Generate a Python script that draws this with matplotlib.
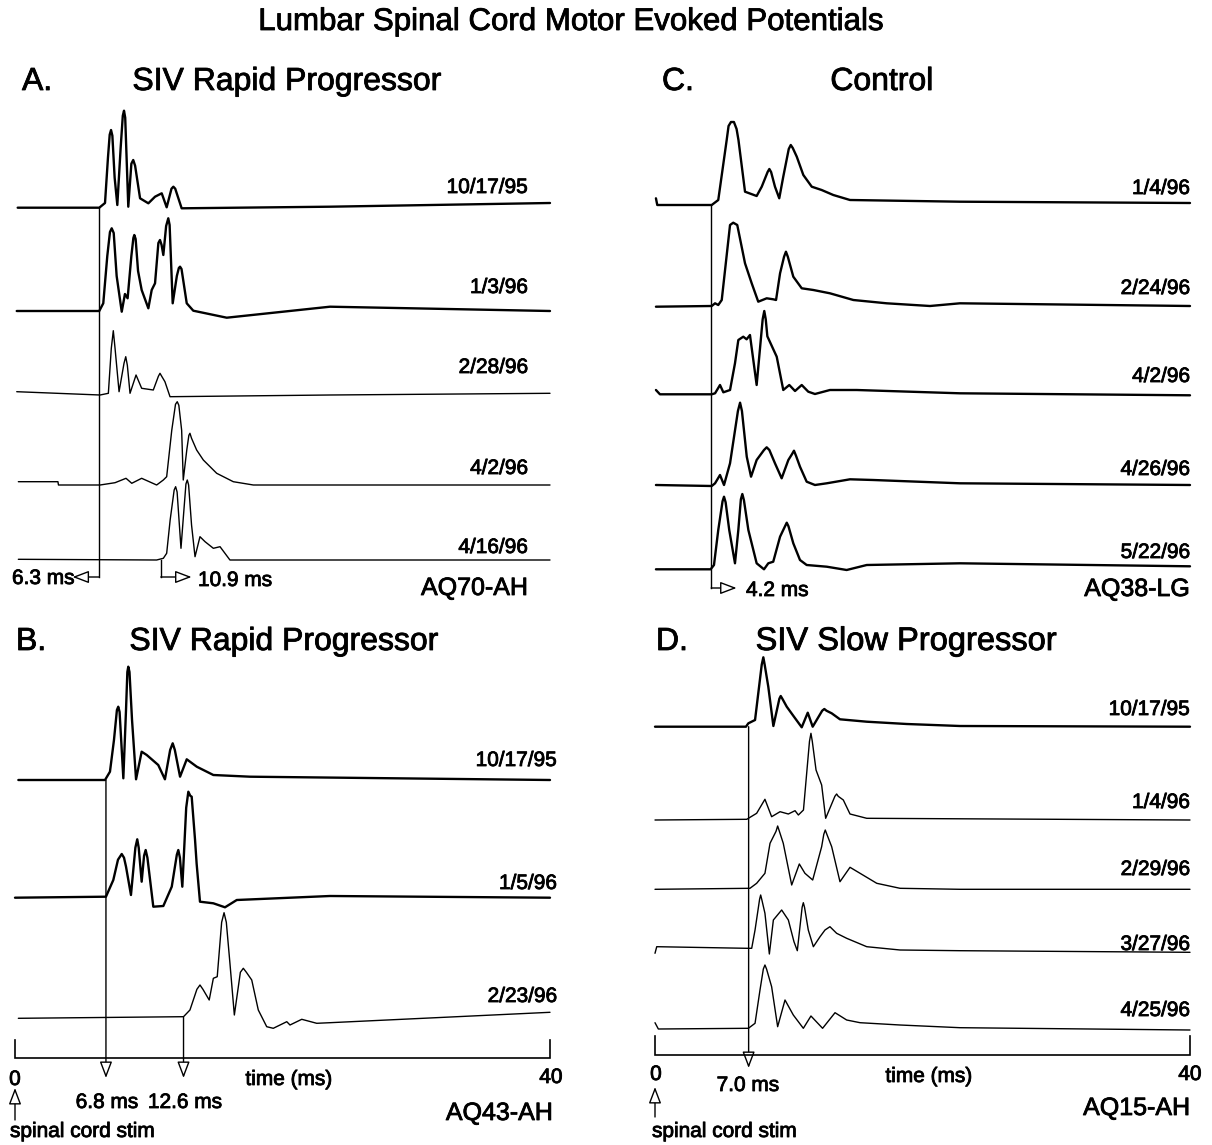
import matplotlib
matplotlib.use("Agg")
import matplotlib.pyplot as plt
from matplotlib.patches import FancyArrowPatch
import matplotlib.patheffects as pe

plt.rcParams['font.family'] = ['Liberation Sans', 'DejaVu Sans']

# ------------------------------------------------------------------
# DATA: waveform keypoints, time (ms) and amplitude (arbitrary units)
# ------------------------------------------------------------------
# Panel A - SIV Rapid Progressor (AQ70-AH)
a1_ms = [0.2, 6.3, 6.73, 6.95, 7.08, 7.18, 7.28, 7.45, 7.65, 7.9, 8.06, 8.15, 8.24, 8.47, 8.7, 8.84, 8.98, 9.35, 9.97, 10.47, 10.97, 11.34, 11.7, 11.84, 11.98, 12.46, 23.55, 40]
a1_amp = [0, 0, 4.7, 50, 73, 77.7, 72, 30, 2.7, 60, 92, 97, 90, 1, 44, 47.7, 42, 9.4, 4.4, 11, 14.4, 0.4, 19, 21, 19, -0.6, 1, 4.7]
a2_ms = [0.13, 6.3, 6.6, 6.9, 7.1, 7.23, 7.38, 7.6, 7.98, 8.22, 8.42, 8.7, 8.85, 8.92, 9.02, 9.2, 9.47, 9.97, 10.22, 10.47, 10.72, 10.84, 10.96, 11.09, 11.3, 11.46, 11.56, 11.79, 12.1, 12.25, 12.34, 12.45, 12.84, 13.33, 15.83, 23.55, 40]
a2_amp = [0, 0, 7.7, 55, 79, 82.7, 78, 35, -0.7, 17, 12.7, 55, 73, 76, 72, 40, 21, 2.7, 21, 27.7, 68, 71, 66, 56, 85, 92.7, 86, 7.7, 35, 43, 44.3, 42, 7.7, 0.3, -6.7, 4.3, 0]
a3_ms = [0.13, 6.36, 6.98, 7.2, 7.35, 7.48, 7.78, 8.15, 8.28, 8.4, 8.6, 9.05, 9.47, 10.34, 10.72, 10.84, 10.97, 11.21, 11.59, 23.55, 40]
a3_amp = [1.6, -1.7, 0, 45, 62.6, 45, 1.6, 30, 36.6, 28, 0, 18.3, 5, 3.3, 17, 20, 17, 11.6, -3.4, -1.7, 0]
a4_ms = [0.25, 3.21, 3.25, 6.36, 7.48, 8.3, 8.73, 9.47, 10.59, 11.09, 11.34, 11.72, 12.0, 12.13, 12.25, 12.46, 12.58, 12.85, 13.0, 13.08, 13.2, 13.58, 14.08, 15.08, 16.32, 17.82, 40]
a4_amp = [2.6, 2.6, -0.7, -0.7, 1.6, 6, 1, 6, -0.7, 4.3, 7.6, 54, 80, 82.6, 79, 54, 4.3, 35, 49, 51, 46, 34.3, 24.3, 11, 2.6, -0.7, -0.7]
a5_ms = [0.25, 10.59, 11.09, 11.34, 11.6, 11.9, 12.01, 12.12, 12.41, 12.6, 12.78, 12.88, 12.98, 13.2, 13.46, 13.83, 14.21, 14.83, 15.33, 16.07, 40]
a5_amp = [0.7, 0, 1.7, 6.7, 40, 70, 73.3, 68, 11.7, 45, 76, 80, 75, 35, 3.3, 23.3, 18.3, 11.7, 13.3, 0, 0]
a_dates = ["10/17/95", "1/3/96", "2/28/96", "4/2/96", "4/16/96"]
a_latencies = [6.3, 10.9]

# Panel B - SIV Rapid Progressor (AQ43-AH)
b1_ms = [0.25, 6.73, 7.1, 7.4, 7.62, 7.72, 7.82, 8.1, 8.3, 8.4, 8.47, 8.56, 8.75, 9.05, 9.47, 9.85, 10.71, 11.21, 11.6, 11.79, 11.95, 12.34, 12.84, 13.59, 14.83, 17.57, 40]
b1_amp = [0, 0, 8.3, 40, 70, 73.3, 68, 1.7, 70, 108, 113.3, 108, 60, 0.7, 28.3, 25, 15, 0.7, 30, 36.7, 30, 3.3, 20.7, 13.3, 5, 3.3, 0]
b2_ms = [0, 6.8, 7.35, 7.7, 7.98, 8.15, 8.3, 8.67, 9.0, 9.14, 9.25, 9.47, 9.65, 9.77, 9.9, 10.34, 11.09, 11.72, 12.1, 12.21, 12.33, 12.51, 12.8, 12.96, 13.1, 13.21, 13.46, 13.58, 13.83, 14.83, 15.7, 16.58, 23.55, 40]
b2_amp = [0, 1, 17.7, 38, 43.7, 40, 31, 2.7, 50, 58.4, 50, 16, 42, 47.7, 40, -9, -8.3, 11, 43, 47.7, 40, 11, 90, 106, 102, 101, 58, 34, -4, -5.6, -9.6, -2.3, 1.7, 0]
b3_ms = [0.25, 12.6, 13.08, 13.6, 13.83, 14.05, 14.52, 14.83, 15.12, 15.45, 15.63, 15.8, 16.07, 16.4, 16.85, 17.07, 17.3, 17.7, 18.19, 18.82, 19.31, 20.32, 20.56, 21.44, 22.56, 23.55, 40]
b3_amp = [-1, 0.6, 7.3, 28, 32.3, 28, 17.3, 39, 40.6, 95, 104.6, 95, 54, 2.3, 45, 49, 45, 37.3, 7.3, -9.4, -11, -4.4, -7.7, -2, -6, -5.4, 5]
b_dates = ["10/17/95", "1/5/96", "2/23/96"]
b_latencies = [6.8, 12.6]

# Panel C - Control (AQ38-LG)
c1_ms = [0.07, 0.17, 4.24, 4.73, 5.36, 5.5, 5.68, 5.9, 6.1, 6.24, 6.73, 7.6, 7.98, 8.42, 8.55, 8.68, 8.97, 9.29, 9.59, 10.0, 10.15, 10.3, 10.6, 11.09, 11.72, 12.46, 13.33, 14.58, 22.8, 40]
c1_amp = [6.7, 0, 0, 5, 65, 79, 83, 83, 76, 65, 13.3, 9, 18.3, 33, 36, 33, 18.3, 6.7, 28.3, 56, 60, 57, 48.3, 30, 18.3, 15, 10, 5, 3.3, 2]
c2_ms = [0.07, 4.24, 4.49, 4.73, 4.99, 5.61, 5.85, 6.15, 6.73, 7.23, 7.72, 8.35, 8.84, 9.05, 9.35, 9.65, 9.79, 9.93, 10.34, 10.97, 11.84, 13.08, 14.83, 17.32, 20.56, 22.8, 40]
c2_amp = [0, 0.7, 3.4, 1.7, 6.7, 81.7, 84, 81.7, 43.4, 23.4, 5, 8.4, 7.4, 6.7, 33.4, 50, 55, 50, 30, 18.4, 16.7, 13.4, 6.7, 3.4, 0.7, 3.4, 0.7]
c3_ms = [0.07, 0.37, 4.24, 4.49, 4.86, 5.11, 5.61, 5.98, 6.23, 6.6, 6.85, 7.1, 7.6, 8.05, 8.17, 8.28, 8.4, 9.1, 9.59, 10.04, 10.47, 10.97, 11.46, 11.96, 13.08, 15.08, 22.8, 40]
c3_amp = [4.3, 0, 0, 1, 9.3, 2, 4.3, 31, 54.3, 57.6, 55, 59.3, 9.3, 75, 83.3, 75, 58, 37.6, 4.3, 9.3, 3.3, 9.3, 2.6, 0.3, 4.3, 4.3, 1, -1]
c4_ms = [0.07, 4.24, 4.49, 4.86, 5.16, 5.61, 6.2, 6.36, 6.5, 6.86, 7.18, 7.6, 8.15, 8.35, 8.55, 8.97, 9.47, 9.97, 10.25, 10.39, 10.55, 10.84, 11.34, 11.96, 12.84, 14.58, 16.32, 22.8, 40]
c4_amp = [1, 0, 2.7, 11, 1, 22.7, 75, 83.3, 75, 29.3, 9.3, 26, 36, 38.7, 36, 22.7, 7.7, 26, 32, 35.3, 30, 19.3, 4.3, 1, 2.7, 6.7, 6, 2.7, 1]
c5_ms = [0.07, 4.16, 4.41, 4.73, 5.05, 5.16, 5.28, 5.55, 5.98, 6.23, 6.42, 6.53, 6.65, 6.98, 7.6, 8.15, 8.47, 8.84, 9.35, 9.72, 9.85, 9.98, 10.34, 10.84, 11.34, 12.84, 14.33, 15.83, 22.8, 40]
c5_amp = [0, 0, 4.3, 39.3, 68, 72.6, 67, 39.3, 6, 39.3, 70, 75.3, 69, 39.3, 6, 0, 6, 7.6, 32.6, 43, 46.6, 43, 26, 9.3, 4.3, 2.6, -0.7, 4.3, 6, 3]
c_dates = ["1/4/96", "2/24/96", "4/2/96", "4/26/96", "5/22/96"]
c_latencies = [4.2]

# Panel D - SIV Slow Progressor (AQ15-AH)
d1_ms = [0, 6.8, 6.98, 7.48, 7.98, 8.1, 8.2, 8.47, 8.85, 9.3, 9.4, 9.52, 9.85, 10.39, 10.97, 11.42, 11.79, 12.5, 12.66, 12.82, 13.21, 13.83, 15.83, 18.82, 22.8, 40]
d1_amp = [0, 0, 3.4, 6.7, 62, 69.4, 62, 40, 0.7, 28, 30.7, 28, 20, 10, -0.6, 14, 0, 16, 17.7, 16, 13.4, 7.4, 5, 2.7, 0.7, 0]
d2_ms = [0, 6.86, 7.6, 8.22, 8.72, 9.35, 9.97, 10.47, 10.72, 11.1, 11.55, 11.66, 11.76, 12.04, 12.46, 12.76, 13.45, 13.58, 13.7, 14.08, 14.58, 15.83, 40]
d2_amp = [-0.7, 0, 6, 20, 2.6, 7.6, 5.3, 8.6, 4.3, 9.3, 78, 86, 78, 49.3, 34.3, 1, 23, 25.3, 23, 19.3, 5.3, 1, -0.7]
d3_ms = [0, 7.1, 7.6, 8.22, 8.6, 9.05, 9.17, 9.3, 9.59, 10.22, 10.79, 11.21, 11.79, 12.46, 12.62, 12.73, 12.85, 13.21, 13.83, 14.58, 15.33, 16.58, 18.32, 22.8, 40]
d3_amp = [0, 1, 6, 16, 46, 58, 63.3, 58, 46, 4.3, 25.3, 16, 9.3, 42.6, 55, 59.3, 55, 42.6, 7.6, 22, 16, 6, 1, 0, 0]
d4_ms = [0, 0.13, 6.86, 7.23, 7.48, 7.82, 7.9, 7.98, 8.22, 8.55, 8.85, 9.47, 9.97, 10.39, 10.64, 11.0, 11.09, 11.18, 11.46, 11.84, 12.34, 12.71, 13.08, 13.58, 14.33, 15.83, 18.32, 22.8, 40]
d4_amp = [-6, 0.6, -1, -1, 17.3, 48, 52.3, 48, 34, -6.7, 27.3, 37.3, 27.3, 5.6, -3.4, 40, 44.6, 40, 17.3, 0.6, 10.6, 17.3, 20.6, 14, 9, 0.6, -2.7, -3.4, -5]
d5_ms = [0, 0.25, 6.98, 7.48, 7.85, 8.1, 8.22, 8.34, 8.72, 9.17, 9.72, 10.34, 11.09, 11.66, 12.53, 13.46, 14.33, 15.33, 18.32, 22.8, 40]
d5_amp = [6.3, 0, 0.7, 5.7, 39, 60, 64, 60, 42.3, 2.3, 29, 14, 0.7, 13, 0.7, 16.3, 9, 6.3, 4, 1.3, -1]
d_dates = ["10/17/95", "1/4/96", "2/29/96", "3/27/96", "4/25/96"]
d_latencies = [7.0]

time_range = [0, 40]

# ------------------------------------------------------------------
# LAYOUT (figure pixels)
# ------------------------------------------------------------------
W, H = 1212, 1145
fig = plt.figure(figsize=(W / 100, H / 100), dpi=100)
fig.patch.set_facecolor('white')

# each column axes: x in ms, y in pixel rows (0 at top)
axL = fig.add_axes([15 / W, 0, 535 / W, 1])
axR = fig.add_axes([655 / W, 0, 535 / W, 1])
over = fig.add_axes([0, 0, 1, 1])
for ax in (axL, axR):
    ax.set_xlim(*time_range)
    ax.set_ylim(H, 0)
    ax.axis('off')
    ax.patch.set_visible(False)
over.set_xlim(0, W)
over.set_ylim(H, 0)
over.axis('off')
over.patch.set_visible(False)

THICK, THIN = 1.7, 1.0
BOLDEN = [pe.withStroke(linewidth=0.6, foreground='black')]


def T(x, y, s, size, ha='left'):
    over.text(x, y, s, ha=ha, va='baseline', fontsize=size, color='black',
              path_effects=BOLDEN)


panels = [
    dict(ax=axL, traces=[(a1_ms, a1_amp), (a2_ms, a2_amp), (a3_ms, a3_amp), (a4_ms, a4_amp), (a5_ms, a5_amp)],
         bases=[207.7, 311, 393.3, 484.3, 560], lws=[THICK, THICK, THIN, THIN, THIN],
         dates=a_dates, date_x=528, date_y=[193, 293, 373, 474, 553]),
    dict(ax=axL, traces=[(b1_ms, b1_amp), (b2_ms, b2_amp), (b3_ms, b3_amp)],
         bases=[780, 897.7, 1017.3], lws=[THICK, THICK, THIN],
         dates=b_dates, date_x=557, date_y=[766, 889, 1002]),
    dict(ax=axR, traces=[(c1_ms, c1_amp), (c2_ms, c2_amp), (c3_ms, c3_amp), (c4_ms, c4_amp), (c5_ms, c5_amp)],
         bases=[205, 306.7, 394.3, 486, 569.3], lws=[THICK] * 5,
         dates=c_dates, date_x=1190, date_y=[194, 294, 382, 475, 558]),
    dict(ax=axR, traces=[(d1_ms, d1_amp), (d2_ms, d2_amp), (d3_ms, d3_amp), (d4_ms, d4_amp), (d5_ms, d5_amp)],
         bases=[726.7, 819.3, 889.3, 947.3, 1029], lws=[THICK, THIN, THIN, THIN, THIN],
         dates=d_dates, date_x=1190, date_y=[715, 808, 875, 950, 1016]),
]

for p in panels:
    for (t, a), base, lw in zip(p['traces'], p['bases'], p['lws']):
        p['ax'].plot(t, [base - v for v in a], color='black', lw=lw, clip_on=False,
                     solid_joinstyle='round', solid_capstyle='round')
    for s, y in zip(p['dates'], p['date_y']):
        T(p['date_x'], y, s, 15, ha='right')

# titles
T(571, 30, "Lumbar Spinal Cord Motor Evoked Potentials", 22.5, ha='center')
HEAD = 23
T(22, 90, "A.", HEAD)
T(287, 90, "SIV Rapid Progressor", HEAD, ha='center')
T(662, 90, "C.", HEAD)
T(882, 90, "Control", HEAD, ha='center')
T(16, 650, "B.", HEAD)
T(284, 650, "SIV Rapid Progressor", HEAD, ha='center')
T(656, 650, "D.", HEAD)
T(906, 650, "SIV Slow Progressor", 23.5, ha='center')

# specimen ids
IDF = 18
T(528, 595, "AQ70-AH", IDF, ha='right')
T(553, 1120, "AQ43-AH", IDF, ha='right')
T(1190, 596, "AQ38-LG", IDF, ha='right')
T(1190, 1115, "AQ15-AH", IDF, ha='right')

MLW = 1.0
AST = dict(arrowstyle='-|>,head_length=1.0,head_width=0.38', mutation_scale=10,
           fc='white', ec='black', lw=MLW, shrinkA=0, shrinkB=0, clip_on=False)


def arrow(ax, x0, y0, x1, y1):
    ax.add_patch(FancyArrowPatch((x0, y0), (x1, y1), **AST))


def vline(ax, x, y0, y1):
    ax.plot([x, x], [y0, y1], color='black', lw=MLW, clip_on=False)


# Panel A latency markers
vline(axL, a_latencies[0], 207.7, 577)
arrow(axL, a_latencies[0], 577, a_latencies[0] - 2.0, 577)
T(12, 584, f"{a_latencies[0]} ms", 15)
vline(axL, a_latencies[1], 560, 577)
arrow(axL, a_latencies[1], 577, a_latencies[1] + 2.3, 577)
T(198, 586, f"{a_latencies[1]} ms", 15)

# Panel C latency marker
vline(axR, c_latencies[0], 205, 588)
arrow(axR, c_latencies[0], 588, c_latencies[0] + 1.9, 588)
T(746, 596, f"{c_latencies[0]} ms", 15)

# Panel B time axis and markers
axL.plot([time_range[0], time_range[0], time_range[1], time_range[1]], [1040, 1058, 1058, 1040],
         color='black', lw=1.2, solid_joinstyle='miter', clip_on=False)
for lat, top, xt in zip(b_latencies, [780, 1017.3], [107, 185]):
    arrow(axL, lat, top, lat, 1078)
    T(xt, 1108, f"{lat} ms", 15, ha='center')
arrow(axL, time_range[0], 1120, time_range[0], 1088)
T(15, 1085, "0", 15, ha='center')
T(551, 1083, "40", 15, ha='center')
T(289, 1085, "time (ms)", 15, ha='center')
T(10, 1137, "spinal cord stim", 15)

# Panel D time axis and markers
axR.plot([time_range[0], time_range[0], time_range[1], time_range[1]], [1036, 1055, 1055, 1036],
         color='black', lw=1.2, solid_joinstyle='miter', clip_on=False)
arrow(axR, d_latencies[0], 726.7, d_latencies[0], 1068)
T(748, 1091, f"{d_latencies[0]} ms", 15, ha='center')
arrow(axR, time_range[0], 1117, time_range[0], 1087)
T(656, 1080, "0", 15, ha='center')
T(1190, 1080, "40", 15, ha='center')
T(929, 1082, "time (ms)", 15, ha='center')
T(652, 1137, "spinal cord stim", 15)

fig.savefig("out.png", dpi=100, facecolor='white')
